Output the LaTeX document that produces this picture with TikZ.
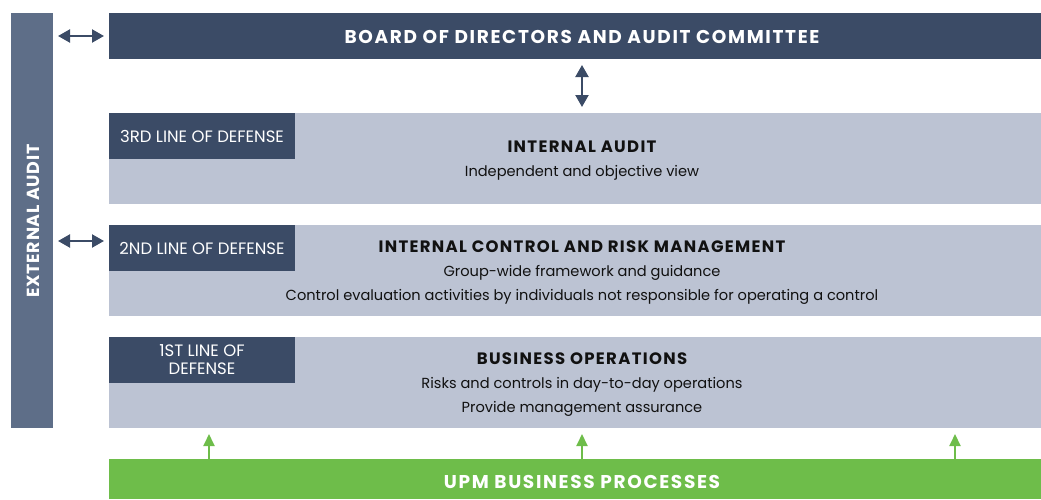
\documentclass[tikz,border=0pt]{standalone}
\usepackage{fontspec}
\setmainfont{Poppins}
\newfontfamily\spacedfont[LetterSpace=9]{Poppins}
\newfontfamily\headfont[LetterSpace=8]{Poppins}
\newfontfamily\sidefont[LetterSpace=4]{Poppins}
\usetikzlibrary{arrows.meta}
\definecolor{navy}{HTML}{3B4B66}
\definecolor{sidebar}{HTML}{5E6E88}
\definecolor{lightbox}{HTML}{BCC3D3}
\definecolor{upmgreen}{HTML}{6EBD4A}
\definecolor{textdark}{HTML}{111111}
\tikzset{
  x=1pt, y=-1pt,
  area/.style={inner sep=0pt, outer sep=0pt, anchor=north west},
  wide/.style={area, minimum width=932pt},
  tierbox/.style={wide, fill=lightbox, minimum height=91pt},
  tag/.style={area, fill=navy, minimum width=186pt, minimum height=46pt, text=white,
     font=\fontsize{16.5}{18}\selectfont, align=center},
  heading/.style={font=\headfont\fontsize{16.5}{18}\selectfont\bfseries, text=textdark, inner sep=0pt},
  body/.style={font=\fontsize{14.6}{18}\selectfont, text=textdark, inner sep=0pt},
  navyarrow/.style={draw=navy, line width=2.2pt, {Triangle[length=12pt,width=13pt]}-{Triangle[length=12pt,width=13pt]}},
  greenarrow/.style={draw=upmgreen, line width=2pt, -{Triangle[length=12pt,width=11pt]}},
}
\begin{document}
\begin{tikzpicture}
\useasboundingbox (0,0) rectangle (1041,499);
% external audit bar
\node[area, fill=sidebar, minimum width=42pt, minimum height=415pt] (ext) at (11,13) {};
\node[rotate=90, text=white, font=\sidefont\fontsize{17.5}{18}\selectfont\bfseries, inner sep=0pt] (extlabel) at (33,221) {EXTERNAL AUDIT};
% board
\node[wide, fill=navy, minimum height=46pt] (board) at (109,13) {};
\node[text=white, font=\spacedfont\fontsize{18.5}{20}\selectfont\bfseries, inner sep=0pt] (boardlabel) at (582,37) {BOARD OF DIRECTORS AND AUDIT COMMITTEE};
% tiers
\node[tierbox] (third) at (109,113) {};
\node[tierbox] (second) at (109,225) {};
\node[tierbox] (first) at (109,337) {};
\node[tag] (tag3) at (109,113) {3RD LINE OF DEFENSE};
\node[tag] (tag2) at (109,225) {2ND LINE OF DEFENSE};
\node[tag, font=\fontsize{16.5}{18}\selectfont] (tag1) at (109,337) {1ST LINE OF\\DEFENSE};
% third text
\node[heading] (h3) at (582,147) {INTERNAL AUDIT};
\node[body] (b3) at (582,173) {Independent and objective view};
% second text
\node[heading] (h2) at (582,247) {INTERNAL CONTROL AND RISK MANAGEMENT};
\node[body] (b2a) at (582,273) {Group-wide framework and guidance};
\node[body] (b2b) at (582,297) {Control evaluation activities by individuals not responsible for operating a control};
% first text
\node[heading] (h1) at (582,359) {BUSINESS OPERATIONS};
\node[body] (b1a) at (582,385) {Risks and controls in day-to-day operations};
\node[body] (b1b) at (582,409) {Provide management assurance};
% green bar
\node[wide, fill=upmgreen, minimum height=40pt] (upm) at (109,459) {};
\node[text=white, font=\spacedfont\fontsize{18.5}{20}\selectfont\bfseries, inner sep=0pt] (upmlabel) at (582,482) {UPM BUSINESS PROCESSES};
% connectors
\coordinate (ax) at (582,0);
\coordinate (y1) at (0,36);
\coordinate (y2) at (0,241);
\draw[navyarrow, shorten <=5pt, shorten >=5pt] (ext.east |- y1) -- (board.west |- y1);
\draw[navyarrow, shorten <=5pt, shorten >=5pt] (ext.east |- y2) -- (second.west |- y2);
\draw[navyarrow, shorten <=6pt, shorten >=6pt] (board.south -| ax) -- (third.north -| ax);
\coordinate (gl) at (209,0);
\coordinate (gr) at (955,0);
\draw[greenarrow, shorten >=6pt] (upm.north -| gl) -- (first.south -| gl);
\draw[greenarrow, shorten >=6pt] (upm.north -| ax) -- (first.south -| ax);
\draw[greenarrow, shorten >=6pt] (upm.north -| gr) -- (first.south -| gr);
\end{tikzpicture}
\end{document}
